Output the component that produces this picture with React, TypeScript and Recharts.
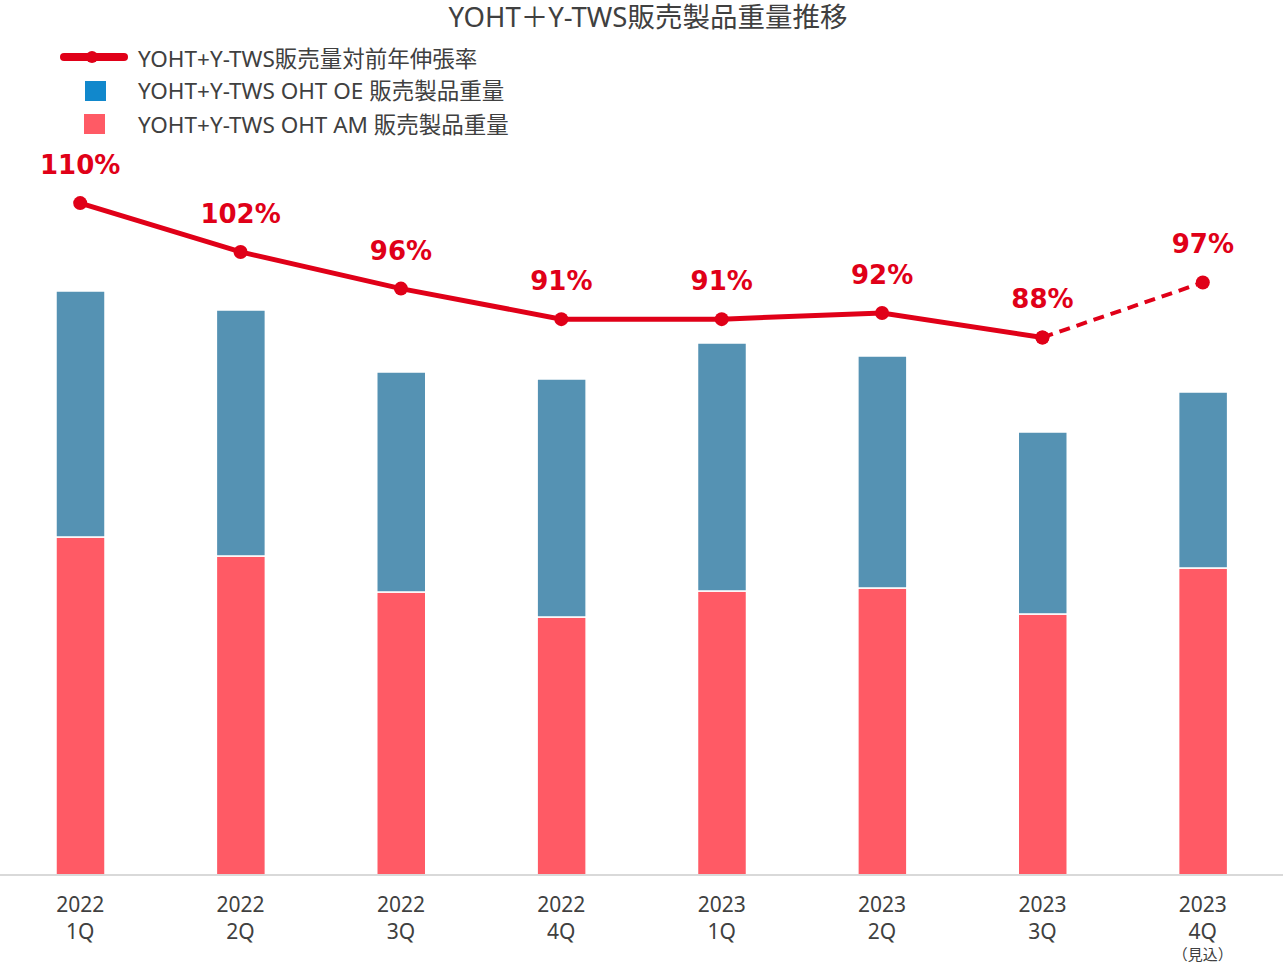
import React from "react";
import {
  ComposedChart,
  Bar,
  Line,
  XAxis,
  YAxis,
  LabelList,
} from "recharts";

const years = ["2022", "2022", "2022", "2022", "2023", "2023", "2023", "2023"];
const quarters = ["1Q", "2Q", "3Q", "4Q", "1Q", "2Q", "3Q", "4Q"];
const notes = ["", "", "", "", "", "", "", "（見込）"];

// 販売製品重量 (relative units, no axis in the original)
const amWeight = [338, 319, 283, 258, 284, 287, 261, 307];
const oeWeight = [246, 246, 220, 238, 248, 232, 182, 176];

// 対前年伸張率 (%)
const rateActual = [110, 102, 96, 91, 91, 92, 88, null];
const rateForecast = [null, null, null, null, null, null, 88, 97];

const RED_LINE = "#e00018";
const AM_COLOR = "#ff5a65";
const OE_COLOR = "#5592b3";
const TEXT = "#404040";
const FONT = "'Noto Sans', 'Noto Sans CJK JP', sans-serif";

const data = quarters.map((q, i) => ({
  key: years[i] + q,
  year: years[i],
  quarter: q,
  note: notes[i],
  am: amWeight[i],
  oe: oeWeight[i],
  actual: rateActual[i],
  forecast: rateForecast[i],
}));

function QuarterTick(props: any) {
  const { x, y, index } = props;
  const d = data[index];
  return (
    <g transform={`translate(${x},${y})`}>
      <text x={0} y={29} textAnchor="middle" fill={TEXT} fontFamily={FONT} fontSize={21}>
        {d.year}
      </text>
      <text x={0} y={56} textAnchor="middle" fill={TEXT} fontFamily={FONT} fontSize={21}>
        {d.quarter}
      </text>
      {d.note ? (
        <text x={0} y={77} textAnchor="middle" fill={TEXT} fontFamily={FONT} fontSize={15}>
          {d.note}
        </text>
      ) : null}
    </g>
  );
}

function RateLabel(props: any) {
  const { x, y, value, index, only } = props;
  if (value == null) return null;
  if (only != null && index !== only) return null;
  return (
    <text
      x={x}
      y={y - 29}
      textAnchor="middle"
      fill={RED_LINE}
      fontFamily="'DejaVu Sans', Verdana, sans-serif"
      fontWeight="bold"
      fontSize={26}
    >
      {value}%
    </text>
  );
}

function LegendRows() {
  const rowStyle: React.CSSProperties = {
    position: "absolute",
    left: 0,
    height: 26,
    display: "flex",
    alignItems: "center",
    fontFamily: FONT,
    fontSize: 22.5,
    lineHeight: "26px",
    color: TEXT,
    whiteSpace: "nowrap",
  };
  return (
    <div style={{ position: "absolute", left: 58, top: 40 }}>
      <div style={{ ...rowStyle, top: 6 }}>
        <svg width={80} height={16}>
          <line x1={6} y1={6} x2={66} y2={6} stroke={RED_LINE} strokeWidth={8} strokeLinecap="round" />
          <circle cx={34} cy={6} r={6} fill={RED_LINE} />
        </svg>
        <span>YOHT+Y-TWS販売量対前年伸張率</span>
      </div>
      <div style={{ ...rowStyle, top: 38 }}>
        <svg width={80} height={22}>
          <rect x={27} y={1} width={21} height={20} fill="#1188cc" />
        </svg>
        <span>YOHT+Y-TWS OHT OE 販売製品重量</span>
      </div>
      <div style={{ ...rowStyle, top: 72 }}>
        <svg width={80} height={22}>
          <rect x={26} y={0} width={21} height={20} fill={AM_COLOR} />
        </svg>
        <span>YOHT+Y-TWS OHT AM 販売製品重量</span>
      </div>
    </div>
  );
}

export default function App() {
  return (
    <div style={{ position: "absolute", left: 0, top: 0, width: 1283, height: 965, background: "#fff" }}>
      <div
        style={{
          position: "absolute",
          top: 0,
          left: 0,
          width: 1296,
          textAlign: "center",
          fontFamily: FONT,
          fontSize: 27.5,
          color: TEXT,
          lineHeight: "34px",
        }}
      >
        YOHT＋Y-TWS販売製品重量推移
      </div>
      <LegendRows />
      <ComposedChart
        width={1283}
        height={965}
        data={data}
        margin={{ top: 142, right: 0, bottom: 0, left: 0 }}
        barCategoryGap={0}
      >
        <XAxis
          dataKey="key"
          height={90}
          interval={0}
          tickLine={false}
          axisLine={{ stroke: "#d9d9d9", strokeWidth: 2 }}
          tick={<QuarterTick />}
        />
        <YAxis yAxisId="w" hide domain={[0, 733]} />
        <YAxis yAxisId="r" hide orientation="right" domain={[0, 120]} />
        <Bar
          yAxisId="w"
          dataKey="am"
          stackId="s"
          fill={AM_COLOR}
          stroke="#ffffff"
          strokeWidth={1.5}
          barSize={49}
          isAnimationActive={false}
        />
        <Bar
          yAxisId="w"
          dataKey="oe"
          stackId="s"
          fill={OE_COLOR}
          stroke="#ffffff"
          strokeWidth={1.5}
          barSize={49}
          isAnimationActive={false}
        />
        <Line
          yAxisId="r"
          dataKey="forecast"
          stroke={RED_LINE}
          strokeWidth={4}
          strokeDasharray="11 7"
          dot={{ r: 7, fill: RED_LINE, stroke: "none" }}
          activeDot={false}
          connectNulls={false}
          isAnimationActive={false}
        >
          <LabelList dataKey="forecast" content={<RateLabel only={7} />} />
        </Line>
        <Line
          yAxisId="r"
          dataKey="actual"
          stroke={RED_LINE}
          strokeWidth={5}
          dot={{ r: 7, fill: RED_LINE, stroke: "none" }}
          activeDot={false}
          connectNulls={false}
          isAnimationActive={false}
        >
          <LabelList dataKey="actual" content={<RateLabel />} />
        </Line>
      </ComposedChart>
    </div>
  );
}
